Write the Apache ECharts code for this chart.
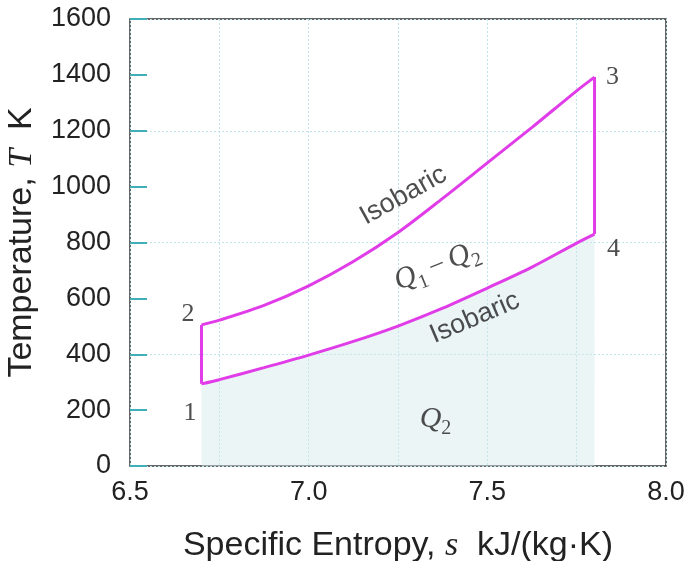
<!DOCTYPE html>
<html>
<head>
    <meta charset="utf-8">
    <title>T-s diagram</title>
    <style>
        html, body { margin: 0; padding: 0; background: #fff; }
    </style>
</head>
<body>
    <div id="main" style="width: 688px;height:561px;"></div>
    <script src="https://cdn.jsdelivr.net/npm/echarts@6/dist/echarts.min.js"></script>
    <script>
        // entropy s (kJ/kg.K)
        var sVals = [6.7, 6.75, 6.875, 7.0, 7.125, 7.25, 7.375, 7.5, 7.625, 7.75, 7.8];
        // upper isobar 2 -> 3 and lower isobar 1 -> 4 (K)
        var tHigh = [505, 522, 575, 645, 732, 836, 958, 1085, 1212, 1343, 1392];
        var tLow = [294, 309, 352, 397, 446, 501, 565, 637, 712, 798, 830];
        var xTicks = [6.5, 7.0, 7.5, 8.0];
        var yTicks = [0, 200, 400, 600, 800, 1000, 1200, 1400, 1600];

        // state point labels: [s, T, text]
        var pointLabels = [
            [6.668, 190, '1'],
            [6.662, 545, '2'],
            [7.850, 1393, '3'],
            [7.853, 777, '4']
        ];

        var magenta = '#e03ce8';
        var serif = '"Liberation Serif", "DejaVu Serif", serif';
        var sans = '"Liberation Sans", Arial, sans-serif';

        var upper = sVals.map(function (s, i) { return [s, tHigh[i]]; });
        var lower = sVals.map(function (s, i) { return [s, tLow[i]]; });
        var s1 = sVals[0], s3 = sVals[sVals.length - 1];

        var myChart = echarts.init(document.getElementById('main'));
        var option = {
            backgroundColor: '#fff',
            animation: false,
            grid: {
                left: 130,
                right: 22,
                top: 19,
                bottom: 95,
                outerBoundsMode: 'none',
                containLabel: false,
                show: true,
                borderColor: '#333',
                borderWidth: 1.5
            },
            xAxis: [{
                    type: 'value',
                    min: xTicks[0],
                    max: xTicks[xTicks.length - 1],
                    interval: 0.5,
                    name: '{a|Specific Entropy, }{b|s}{a|  kJ/(kg·K)}',
                    nameLocation: 'middle',
                    nameGap: 63,
                    nameTextStyle: {
                        rich: {
                            a: { fontFamily: sans, fontSize: 34, color: '#222' },
                            b: { fontFamily: serif, fontStyle: 'italic', fontSize: 34, color: '#222' }
                        }
                    },
                    axisLine: { show: false },
                    axisTick: { show: false },
                    splitLine: { show: false },
                    axisLabel: {
                        margin: 13,
                        fontFamily: sans,
                        fontSize: 27,
                        color: '#222',
                        formatter: function (v) { return v.toFixed(1); }
                    }
                },
                {
                    type: 'value',
                    min: xTicks[0],
                    max: xTicks[xTicks.length - 1],
                    interval: 0.25,
                    position: 'bottom',
                    axisLine: { show: false },
                    axisTick: { show: false },
                    axisLabel: { show: false },
                    splitLine: {
                        show: true,
                        lineStyle: { color: '#bfe3ea', width: 1, type: [2, 2] }
                    }
                }
            ],
            yAxis: [{
                    type: 'value',
                    min: yTicks[0],
                    max: yTicks[yTicks.length - 1],
                    interval: 200,
                    name: '{a|Temperature, }{b|T}{a|  K}',
                    nameLocation: 'middle',
                    nameGap: 91,
                    nameTextStyle: {
                        rich: {
                            a: { fontFamily: sans, fontSize: 34, color: '#222' },
                            b: { fontFamily: serif, fontStyle: 'italic', fontSize: 34, color: '#222' }
                        }
                    },
                    axisLine: { show: false },
                    axisTick: {
                        show: true,
                        inside: true,
                        length: 17,
                        lineStyle: { color: '#3fb0b8', width: 2 }
                    },
                    splitLine: { show: false },
                    axisLabel: {
                        margin: 19,
                        fontFamily: sans,
                        fontSize: 27,
                        color: '#222',
                        formatter: function (v) { return String(v); }
                    }
                },
                {
                    type: 'value',
                    min: yTicks[0],
                    max: yTicks[yTicks.length - 1],
                    interval: 400,
                    position: 'left',
                    axisLine: { show: false },
                    axisTick: { show: false },
                    axisLabel: { show: false },
                    splitLine: {
                        show: true,
                        lineStyle: { color: '#bfe3ea', width: 1, type: [2, 2] }
                    }
                }
            ],
            series: [{
                    // Q2 area under the lower isobar
                    type: 'line',
                    data: lower,
                    smooth: 0.3,
                    showSymbol: false,
                    lineStyle: { color: magenta, width: 3 },
                    areaStyle: { color: 'rgba(210, 232, 234, 0.65)', origin: 'start' },
                    z: 3
                },
                {
                    type: 'line',
                    data: upper,
                    smooth: 0.3,
                    showSymbol: false,
                    lineStyle: { color: magenta, width: 3 },
                    z: 3
                },
                {
                    type: 'line',
                    data: [[s1, tLow[0]], [s1, tHigh[0]]],
                    showSymbol: false,
                    lineStyle: { color: magenta, width: 3 },
                    z: 3
                },
                {
                    type: 'line',
                    data: [[s3, tHigh[tHigh.length - 1]], [s3, tLow[tLow.length - 1]]],
                    showSymbol: false,
                    lineStyle: { color: magenta, width: 3 },
                    z: 3
                },
                {
                    type: 'scatter',
                    symbolSize: 0,
                    silent: true,
                    z: 5,
                    label: {
                        show: true,
                        position: 'inside',
                        fontFamily: serif,
                        fontSize: 26,
                        color: '#222',
                        formatter: function (p) { return p.value[2]; }
                    },
                    data: pointLabels
                },
                {
                    type: 'scatter',
                    symbolSize: 0,
                    silent: true,
                    z: 5,
                    label: {
                        show: true,
                        position: 'inside',
                        fontFamily: sans,
                        fontSize: 27,
                        color: '#222',
                        rich: {
                            q: { fontFamily: serif, fontStyle: 'italic', fontSize: 30, color: '#222', lineHeight: 32, verticalAlign: 'top' },
                            n: { fontFamily: serif, fontSize: 20, color: '#222', lineHeight: 18, padding: [15, 0, 0, 0], verticalAlign: 'top' },
                            m: { fontFamily: serif, fontSize: 26, color: '#222', lineHeight: 32, verticalAlign: 'top' }
                        },
                        formatter: function (p) { return p.value[2]; }
                    },
                    data: [
                        { value: [7.265, 968, 'Isobaric'], label: { rotate: 29 } },
                        { value: [7.465, 530, 'Isobaric'], label: { rotate: 23 } },
                        { value: [7.36, 712, '{q|Q}{n|1}{m| – }{q|Q}{n|2}'], label: { rotate: 22 } },
                        { value: [7.355, 165, '{q|Q}{n|2}'] }
                    ]
                }
            ]
        };
        myChart.setOption(option);
    </script>
</body>
</html>
